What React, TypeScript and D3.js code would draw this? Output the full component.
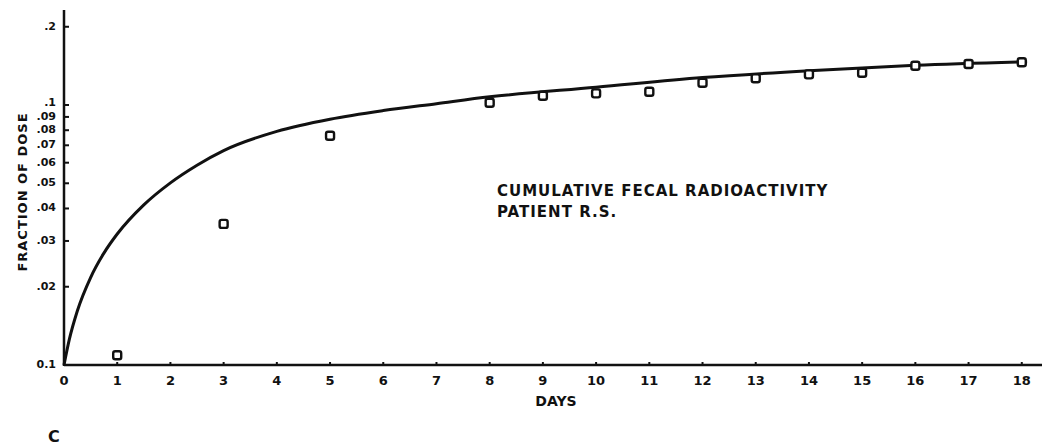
import * as d3 from 'd3';

const days = [1, 3, 5, 8, 9, 10, 11, 12, 13, 14, 15, 16, 17, 18];
const observed = [0.0109, 0.0349, 0.0762, 0.102, 0.1086, 0.1109, 0.1125, 0.1218, 0.1267, 0.1312, 0.1331, 0.1416, 0.1438, 0.146];

// fitted curve samples
const curveDays = [0, 0.1, 0.25, 0.5, 0.75, 1, 1.5, 2, 2.5, 3, 4, 5, 6, 7, 8, 10, 12, 14, 16, 18.1];
const curveVals = [0.01, 0.01254, 0.01613, 0.0217, 0.02694, 0.0319, 0.0413, 0.0502, 0.0587, 0.0668, 0.0792, 0.0882, 0.0952, 0.1012, 0.1075, 0.117, 0.1275, 0.1355, 0.1422, 0.1468];

const xTicks = d3.range(0, 19);
const yTicks = [0.2, 0.1, 0.09, 0.08, 0.07, 0.06, 0.05, 0.04, 0.03, 0.02, 0.01];
const yTickLabels = ['.2', '.1', '.09', '.08', '.07', '.06', '.05', '.04', '.03', '.02', '0.1'];

const W = 1043;
const H = 445;
const font = '"DejaVu Sans", sans-serif';

export default function App() {
  const x = d3.scaleLinear().domain([0, 18.38]).range([64, 1042]);
  const y = d3.scaleLog().domain([0.01, 0.232]).range([365, 10]);

  const line = d3.line<number>()
    .x((_, i) => x(curveDays[i]))
    .y(d => y(d))
    .curve(d3.curveMonotoneX);

  const [x0, x1] = x.range();
  const [y0, y1] = y.range();

  // the .1 label sits a little higher in the original, clear of .09
  const labelY = (t: number) => y(t) - (t === 0.1 ? 3 : 1);

  return (
    <svg width={W} height={H} style={{ position: 'absolute', left: 0, top: 0, background: '#fff' }}>
      <g fontFamily={font} fontWeight="bold" fill="#111">
        {/* axes */}
        <line x1={x0} x2={x0} y1={y1} y2={y0 + 1} stroke="#111" strokeWidth={2.5} />
        <line x1={x0} x2={x1} y1={y0} y2={y0} stroke="#111" strokeWidth={2.5} />

        {yTicks.map((t, i) => (
          <g key={t}>
            <line x1={x0} x2={x0 + 5} y1={y(t)} y2={y(t)} stroke="#111" strokeWidth={2} />
            <text x={x0 - 8} y={labelY(t)} dy="0.36em" fontSize={11} textAnchor="end">{yTickLabels[i]}</text>
          </g>
        ))}

        {xTicks.map(t => (
          <g key={t}>
            {t > 0 && <line x1={x(t)} x2={x(t)} y1={y0} y2={y0 - 3} stroke="#111" strokeWidth={2} />}
            <text x={x(t)} y={y0 + 20} fontSize={13} textAnchor="middle">{t}</text>
          </g>
        ))}

        <text x={556} y={406} fontSize={14} textAnchor="middle">DAYS</text>
        <text transform={`translate(27,192) rotate(-90)`} fontSize={13} letterSpacing={1} textAnchor="middle">FRACTION OF DOSE</text>

        <text x={497} y={196} fontSize={15} letterSpacing={1}>CUMULATIVE FECAL RADIOACTIVITY</text>
        <text x={497} y={217} fontSize={15} letterSpacing={1}>PATIENT R.S.</text>

        <text x={48} y={442} fontSize={16}>C</text>

        {/* fitted curve */}
        <path d={line(curveVals) ?? ''} fill="none" stroke="#111" strokeWidth={3} />

        {/* observed points */}
        {days.map((d, i) => (
          <rect key={d} x={x(d) - 4} y={y(observed[i]) - 4} width={8} height={8} rx={2}
            fill="#fff" stroke="#111" strokeWidth={2.4} />
        ))}
      </g>
    </svg>
  );
}
